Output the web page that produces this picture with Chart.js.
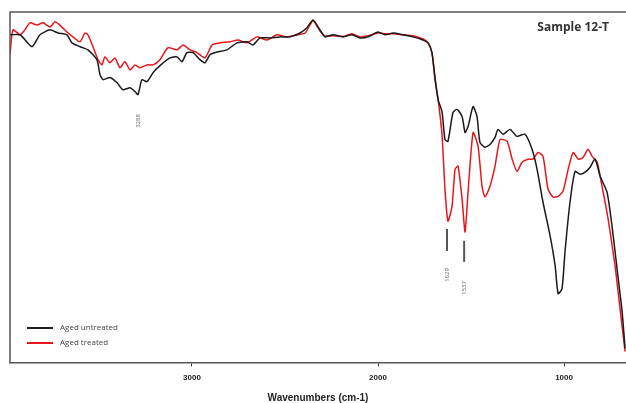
<!DOCTYPE html>
<html>
<head>
<meta charset="utf-8">
<style>
  html, body { margin: 0; padding: 0; background: #fff; }
  #wrap { width: 626px; height: 403px; }
</style>
<script src="https://cdn.jsdelivr.net/npm/chart.js@4/dist/chart.umd.min.js"></script>
</head>
<body>
<div id="wrap"><canvas id="ftir" width="626" height="403"></canvas></div>
<script>
// wavenumbers (cm-1) and transmittance (a.u., 0-100)
const wnUntreated = [3978, 3924, 3860, 3817, 3763, 3720, 3672, 3645, 3602, 3559, 3511, 3494, 3478, 3441, 3403, 3371, 3333, 3306, 3290, 3269, 3242, 3209, 3172, 3118, 3080, 3054, 3027, 2994, 2957, 2930, 2903, 2865, 2812, 2758, 2704, 2672, 2634, 2581, 2527, 2473, 2419, 2382, 2349, 2312, 2285, 2242, 2188, 2140, 2097, 2054, 2000, 1962, 1919, 1866, 1812, 1758, 1731, 1710, 1694, 1677, 1656, 1640, 1624, 1597, 1575, 1548, 1532, 1516, 1489, 1468, 1452, 1425, 1398, 1371, 1355, 1328, 1290, 1253, 1210, 1172, 1145, 1113, 1075, 1048, 1032, 1011, 995, 968, 941, 914, 887, 860, 833, 806, 769, 742, 715, 688, 672];
const tUntreated = [93.5, 93.5, 90.1, 93.5, 94.9, 94.0, 93.5, 91.2, 90.1, 89.2, 86.4, 82.1, 80.7, 81.3, 79.8, 77.8, 78.4, 77.3, 76.4, 80.7, 80.1, 82.7, 84.7, 86.9, 87.2, 85.8, 88.4, 88.4, 86.4, 85.5, 87.8, 88.6, 89.2, 91.2, 91.5, 90.6, 92.6, 92.6, 92.9, 92.9, 94.0, 95.5, 97.7, 94.9, 92.9, 93.5, 92.9, 93.5, 92.6, 92.9, 94.3, 93.5, 94.0, 93.5, 92.9, 92.0, 91.2, 88.4, 81.5, 75.0, 71.6, 63.6, 63.1, 71.3, 72.2, 70.2, 65.6, 67.3, 73.0, 70.2, 62.8, 61.4, 62.2, 64.2, 66.5, 65.1, 66.5, 64.5, 65.1, 60.8, 55.1, 45.7, 36.1, 27.6, 19.6, 21.0, 31.5, 45.7, 54.5, 53.7, 54.3, 55.7, 58.0, 53.1, 48.6, 38.9, 26.7, 14.5, 4.0];

const wnTreated = [3978, 3962, 3924, 3898, 3871, 3833, 3801, 3763, 3736, 3699, 3672, 3640, 3602, 3575, 3559, 3532, 3505, 3484, 3468, 3441, 3414, 3387, 3360, 3333, 3306, 3279, 3242, 3209, 3172, 3129, 3080, 3048, 3011, 2973, 2930, 2892, 2849, 2796, 2752, 2704, 2650, 2597, 2543, 2489, 2435, 2392, 2349, 2312, 2285, 2242, 2188, 2140, 2097, 2054, 2000, 1962, 1919, 1866, 1812, 1758, 1731, 1710, 1694, 1677, 1656, 1640, 1624, 1602, 1586, 1570, 1548, 1532, 1516, 1489, 1462, 1441, 1425, 1398, 1371, 1344, 1306, 1279, 1253, 1226, 1194, 1167, 1140, 1113, 1086, 1059, 1032, 1005, 978, 951, 924, 898, 871, 849, 822, 796, 763, 726, 699, 672];
const tTreated = [87.8, 94.9, 93.5, 94.9, 96.9, 96.3, 96.9, 95.7, 97.2, 95.7, 94.3, 92.9, 91.5, 94.0, 93.5, 90.1, 86.4, 84.9, 87.2, 85.5, 86.9, 84.1, 85.8, 83.5, 84.9, 84.1, 84.9, 84.9, 86.4, 89.8, 89.2, 90.6, 89.2, 88.4, 86.9, 90.6, 91.2, 91.5, 92.0, 91.2, 92.9, 92.0, 93.5, 92.9, 93.5, 94.0, 97.5, 94.6, 93.2, 93.2, 93.0, 93.8, 92.9, 93.2, 94.0, 93.8, 93.8, 93.5, 93.2, 92.3, 91.2, 88.4, 80.7, 75.0, 65.1, 49.4, 40.3, 44.6, 55.1, 56.0, 46.6, 37.2, 48.6, 65.6, 61.6, 50.3, 47.2, 50.3, 56.0, 63.6, 63.1, 58.0, 54.5, 57.1, 58.0, 58.0, 59.9, 58.8, 49.4, 47.2, 47.4, 48.9, 55.1, 59.9, 58.0, 58.5, 60.8, 58.8, 57.1, 50.3, 40.9, 27.6, 15.3, 3.1];

const tickValues = [3000, 2000, 1000];
const peakNames = ['3288', '1629', '1537'];
const peakWn = [3288, 1629, 1537];

const toPoints = (wn, t) => wn.map((w, i) => ({ x: w, y: t[i] }));

const ftirDecor = {
  id: 'ftirDecor',
  afterDraw(chart) {
    const { ctx, chartArea: a, scales } = chart;
    const xs = scales.x, ys = scales.y;
    ctx.save();

    // frame: top and left edges
    ctx.strokeStyle = '#555';
    ctx.lineWidth = 1.5;
    ctx.beginPath();
    ctx.moveTo(a.left, a.bottom);
    ctx.lineTo(a.left, a.top);
    ctx.lineTo(a.right, a.top);
    ctx.stroke();

    // sample name
    ctx.fillStyle = '#333';
    ctx.font = 'bold 12px "Open Sans", sans-serif';
    ctx.textAlign = 'right';
    ctx.textBaseline = 'middle';
    ctx.fillText('Sample 12-T', a.right - 17, a.top + 16);

    // peak markers
    const bars = [null, [38.1, 31.8], [34.7, 28.7]];
    const labelY = [121, 275, 288];
    ctx.fillStyle = '#666';
    ctx.strokeStyle = '#555';
    ctx.font = '6px "Open Sans", sans-serif';
    peakWn.forEach((w, i) => {
      const px = xs.getPixelForValue(w);
      if (bars[i]) {
        ctx.lineWidth = 2;
        ctx.beginPath();
        ctx.moveTo(px, ys.getPixelForValue(bars[i][0]));
        ctx.lineTo(px, ys.getPixelForValue(bars[i][1]));
        ctx.stroke();
      }
      ctx.save();
      ctx.translate(px, labelY[i]);
      ctx.rotate(-Math.PI / 2);
      ctx.textAlign = 'center';
      ctx.textBaseline = 'middle';
      ctx.fillText(peakNames[i], 0, 0);
      ctx.restore();
    });

    // legend inside the plot
    ctx.font = '8px "Open Sans", sans-serif';
    ctx.textAlign = 'left';
    ctx.textBaseline = 'middle';
    chart.data.datasets.forEach((ds, i) => {
      const y = 328 + i * 15;
      ctx.strokeStyle = ds.borderColor;
      ctx.lineWidth = 2;
      ctx.beginPath();
      ctx.moveTo(a.left + 17, y);
      ctx.lineTo(a.left + 43, y);
      ctx.stroke();
      ctx.fillStyle = '#444';
      ctx.fillText(ds.label, a.left + 50, y);
    });
    ctx.restore();
  }
};

new Chart(document.getElementById('ftir'), {
  type: 'line',
  data: {
    datasets: [
      { label: 'Aged untreated', data: toPoints(wnUntreated, tUntreated), borderColor: '#1a1a1a', borderWidth: 1.5, pointRadius: 0, tension: 0.2 },
      { label: 'Aged treated', data: toPoints(wnTreated, tTreated), borderColor: '#e8161b', borderWidth: 1.5, pointRadius: 0, tension: 0.2 }
    ]
  },
  options: {
    responsive: false,
    animation: false,
    layout: { padding: { left: 10, top: 12, right: 0, bottom: 0 } },
    plugins: { legend: { display: false }, tooltip: { enabled: false } },
    scales: {
      x: {
        type: 'linear',
        reverse: true,
        min: 667,
        max: 3978,
        afterBuildTicks: (scale) => { scale.ticks = tickValues.map(v => ({ value: v })); },
        grid: { drawOnChartArea: false, drawTicks: true, tickLength: 4, color: '#333', lineWidth: 1 },
        border: { display: true, color: '#555', width: 1.5 },
        ticks: { color: '#222', font: { size: 8, weight: 'bold' }, padding: 7, maxRotation: 0, callback: (v) => String(v) },
        title: { display: true, text: 'Wavenumbers (cm-1)', color: '#222', font: { size: 10, weight: 'bold', lineHeight: 0.9 }, padding: { top: 4, bottom: 0 } }
      },
      y: { display: false, min: 0, max: 100 }
    }
  },
  plugins: [ftirDecor]
});
</script>
</body>
</html>
